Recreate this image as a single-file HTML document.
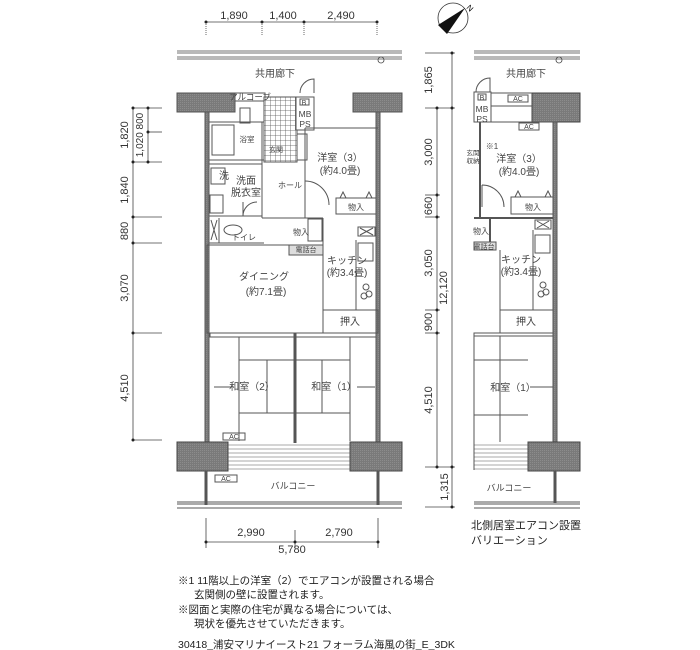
<!DOCTYPE html>
<html><head><meta charset="utf-8"><style>
html,body{margin:0;padding:0;background:#fff;}
svg{display:block;font-family:"Liberation Sans","Noto Sans CJK JP",sans-serif;}
.d{font-size:11px;fill:#333;}
.t{font-size:9px;fill:#444;}
.n{font-size:10.5px;fill:#222;}
</style></head><body>
<svg width="700" height="650" viewBox="0 0 700 650" xmlns="http://www.w3.org/2000/svg">
<defs>
<pattern id="hat" width="2" height="2" patternUnits="userSpaceOnUse"><rect width="2" height="2" fill="#7a7a7a"/><rect width="1" height="1" fill="#8c8c8c"/></pattern>
<pattern id="grid" width="5" height="5" patternUnits="userSpaceOnUse"><rect width="5" height="5" fill="#fff"/><path d="M0 0H5M0 0V5" stroke="#555" stroke-width="0.8"/></pattern>
</defs>
<g stroke="#444" fill="none" stroke-width="0.8">
<line x1="206" y1="22" x2="377" y2="22"/>
<line x1="206" y1="22" x2="206" y2="36" stroke-dasharray="1 1"/>
<line x1="262" y1="22" x2="262" y2="36" stroke-dasharray="1 1"/>
<line x1="304" y1="22" x2="304" y2="36" stroke-dasharray="1 1"/>
<line x1="377" y1="22" x2="377" y2="36" stroke-dasharray="1 1"/>
<line x1="177" y1="51" x2="402" y2="51"/><line x1="177" y1="53" x2="402" y2="53"/>
<line x1="177" y1="57" x2="402" y2="57"/><line x1="177" y1="59" x2="402" y2="59"/>
<circle cx="381" cy="60" r="3"/>
<line x1="474" y1="51" x2="580" y2="51"/><line x1="474" y1="53" x2="580" y2="53"/>
<line x1="474" y1="57" x2="580" y2="57"/><line x1="474" y1="59" x2="580" y2="59"/>
<circle cx="559" cy="60" r="3"/>
<line x1="133" y1="108" x2="133" y2="440"/>
<line x1="148" y1="108" x2="148" y2="162"/>
<line x1="133" y1="108" x2="162" y2="108"/>
<line x1="148" y1="132" x2="162" y2="132"/>
<line x1="133" y1="162" x2="162" y2="162"/>
<line x1="133" y1="217" x2="162" y2="217"/>
<line x1="133" y1="243" x2="162" y2="243"/>
<line x1="133" y1="333" x2="162" y2="333"/>
<line x1="133" y1="440" x2="162" y2="440"/>
<line x1="206" y1="542" x2="378" y2="542"/>
<line x1="206" y1="518" x2="206" y2="548"/><line x1="295" y1="530" x2="295" y2="548"/><line x1="378" y1="518" x2="378" y2="548"/>
<line x1="452" y1="53" x2="452" y2="507"/>
<line x1="437" y1="108" x2="437" y2="467"/>
<line x1="425" y1="53" x2="455" y2="53"/>
<line x1="425" y1="108" x2="455" y2="108"/>
<line x1="425" y1="195" x2="440" y2="195"/>
<line x1="425" y1="217" x2="440" y2="217"/>
<line x1="425" y1="310" x2="440" y2="310"/>
<line x1="425" y1="333" x2="440" y2="333"/>
<line x1="425" y1="467" x2="455" y2="467"/>
<line x1="425" y1="507" x2="455" y2="507"/>
</g>
<g fill="#222">
<circle cx="206" cy="22" r="1.5"/><circle cx="262" cy="22" r="1.5"/><circle cx="304" cy="22" r="1.5"/><circle cx="377" cy="22" r="1.5"/>
<circle cx="133" cy="108" r="1.5"/><circle cx="148" cy="108" r="1.5"/><circle cx="148" cy="132" r="1.5"/><circle cx="148" cy="162" r="1.5"/><circle cx="133" cy="162" r="1.5"/><circle cx="133" cy="217" r="1.5"/><circle cx="133" cy="243" r="1.5"/><circle cx="133" cy="333" r="1.5"/><circle cx="133" cy="440" r="1.5"/>
<circle cx="206" cy="542" r="1.5"/><circle cx="295" cy="542" r="1.5"/><circle cx="378" cy="542" r="1.5"/>
<circle cx="452" cy="53" r="1.5"/><circle cx="452" cy="108" r="1.5"/><circle cx="437" cy="108" r="1.5"/><circle cx="437" cy="195" r="1.5"/><circle cx="437" cy="217" r="1.5"/><circle cx="437" cy="310" r="1.5"/><circle cx="437" cy="333" r="1.5"/><circle cx="437" cy="467" r="1.5"/><circle cx="452" cy="467" r="1.5"/><circle cx="452" cy="507" r="1.5"/>
</g>
<g class="d" text-anchor="middle">
<text x="234" y="19">1,890</text><text x="283" y="19">1,400</text><text x="341" y="19">2,490</text>
<text x="251" y="536">2,990</text><text x="339" y="536">2,790</text><text x="292" y="553">5,780</text>
<text transform="translate(128,135) rotate(-90)">1,820</text>
<text transform="translate(143,135) rotate(-90)" style="font-size:10px">1,020 800</text>
<text transform="translate(128,190) rotate(-90)">1,840</text>
<text transform="translate(128,231) rotate(-90)">880</text>
<text transform="translate(128,288) rotate(-90)">3,070</text>
<text transform="translate(128,388) rotate(-90)">4,510</text>
<text transform="translate(432,80) rotate(-90)">1,865</text>
<text transform="translate(432,152) rotate(-90)">3,000</text>
<text transform="translate(432,206) rotate(-90)">660</text>
<text transform="translate(432,263) rotate(-90)">3,050</text>
<text transform="translate(447,288) rotate(-90)">12,120</text>
<text transform="translate(432,322) rotate(-90)">900</text>
<text transform="translate(432,400) rotate(-90)">4,510</text>
<text transform="translate(448,487) rotate(-90)">1,315</text>
</g>
<circle cx="453" cy="18" r="15" fill="#fff" stroke="#333" stroke-width="0.8"/>
<polygon points="438,25 447,34 465,8" fill="#111"/>
<text x="466" y="8" style="font-size:8px" transform="rotate(45 466 8)">N</text>

<g stroke="#555" stroke-width="1" fill="none">
<rect x="177" y="93" width="58" height="19" fill="url(#hat)"/>
<rect x="353" y="93" width="49" height="19" fill="url(#hat)"/>
<rect x="235" y="93" width="30" height="8" fill="#fff"/>
<rect x="264" y="97" width="33" height="65" fill="url(#grid)"/>
<path d="M300 93 A14 14 0 0 1 314 79 V93"/>
<rect x="296" y="97" width="18" height="33" fill="#fff"/>
<rect x="300" y="99" width="9" height="6"/>
<rect x="297" y="134" width="10" height="26" fill="#fff"/>
<rect x="205" y="112" width="4" height="331" fill="url(#hat)"/>
<rect x="376" y="112" width="4" height="331" fill="url(#hat)"/>
<rect x="209" y="122" width="55" height="38" fill="#fff"/>
<rect x="212" y="125" width="22" height="30"/>
<rect x="240" y="108" width="10" height="15"/>
<line x1="262" y1="122" x2="262" y2="218"/>
<line x1="209" y1="164" x2="262" y2="164"/>
<rect x="211" y="168" width="14" height="16"/>
<rect x="210" y="195" width="13" height="18"/>
<line x1="209" y1="216" x2="262" y2="216"/>
<path d="M243 216 A14 14 0 0 1 257 202 M243 202 V216"/>
<line x1="209" y1="243" x2="264" y2="243"/>
<line x1="219" y1="218" x2="219" y2="243"/>
<path d="M211 220 L217 240 M217 220 L211 240"/>
<ellipse cx="233" cy="230" rx="9" ry="5"/>
<line x1="305" y1="128" x2="305" y2="218"/>
<line x1="262" y1="218" x2="323" y2="218"/>
<path d="M305 181 A24 24 0 0 1 329 205"/>
<line x1="305" y1="128" x2="378" y2="128"/>
<rect x="336" y="198" width="40" height="16"/>
<path d="M340 198 l3 -6 l3 6 M366 198 l3 -6 l3 6"/>
<line x1="323" y1="218" x2="323" y2="333"/>
<rect x="308" y="219" width="14" height="22"/>
<rect x="358" y="227" width="17" height="9"/>
<path d="M360 228 l13 7 M373 228 l-13 7"/>
<line x1="356" y1="240" x2="356" y2="310"/>
<rect x="358" y="243" width="15" height="18"/>
<circle cx="366" cy="287" r="3"/><circle cx="369" cy="294" r="3"/><circle cx="364" cy="296" r="3"/>
<rect x="289" y="245" width="34" height="10" fill="#ddd"/>
<rect x="207" y="245" width="116" height="88"/>
<rect x="323" y="310" width="55" height="23"/>
<rect x="210" y="333" width="166" height="4"/>
<line x1="295" y1="333" x2="295" y2="443" stroke-width="3"/>
<line x1="239" y1="337" x2="239" y2="441"/><line x1="239" y1="360" x2="295" y2="360"/><line x1="239" y1="413" x2="295" y2="413"/><line x1="267" y1="360" x2="267" y2="413"/>
<line x1="350" y1="337" x2="350" y2="441"/><line x1="295" y1="360" x2="350" y2="360"/><line x1="295" y1="413" x2="350" y2="413"/><line x1="322" y1="360" x2="322" y2="413"/>
<line x1="214" y1="387" x2="232" y2="387"/><line x1="357" y1="387" x2="375" y2="387"/>
<rect x="223" y="433" width="22" height="7"/>
<rect x="177" y="442" width="51" height="29" fill="url(#hat)" stroke="#444"/>
<rect x="350" y="442" width="52" height="29" fill="url(#hat)" stroke="#444"/>
<g stroke-width="0.6"><line x1="228" y1="445" x2="350" y2="445"/><line x1="228" y1="449" x2="350" y2="449"/><line x1="228" y1="453" x2="350" y2="453"/><line x1="228" y1="457" x2="350" y2="457"/><line x1="228" y1="461" x2="350" y2="461"/><line x1="228" y1="465" x2="350" y2="465"/><line x1="228" y1="469" x2="350" y2="469"/></g>
<rect x="215" y="475" width="22" height="7"/>
<line x1="206" y1="471" x2="206" y2="505" stroke-width="3"/>
<line x1="378" y1="471" x2="378" y2="505" stroke-width="3"/>
<line x1="177" y1="502" x2="402" y2="502"/><line x1="177" y1="504" x2="402" y2="504"/><line x1="177" y1="508" x2="402" y2="508"/>
</g>
<g class="t" text-anchor="middle">
<text x="275" y="77" style="font-size:10px">共用廊下</text>
<text x="250" y="100" style="font-size:8.5px">アルコーブ</text>
<text x="304" y="105" style="font-size:7px">B</text>
<text x="305" y="117" style="font-size:8.5px">MB</text><text x="305" y="127" style="font-size:8.5px">PS</text>
<text x="247" y="142" style="font-size:7.5px">浴室</text>
<text x="276" y="152" style="font-size:7px">玄関</text>
<text x="224" y="179" style="font-size:10px">洗</text>
<text x="246" y="184" style="font-size:10px">洗面</text><text x="246" y="196" style="font-size:10px">脱衣室</text>
<text x="290" y="188" style="font-size:8px">ホール</text>
<text x="340" y="161" style="font-size:10px">洋室（3）</text>
<text x="340" y="174" style="font-size:10px">(約4.0畳)</text>
<text x="356" y="210" style="font-size:8px">物入</text>
<text x="301" y="235" style="font-size:8px">物入</text>
<text x="244" y="240" style="font-size:8px">トイレ</text>
<text x="306" y="252" style="font-size:7px">電話台</text>
<text x="347" y="264" style="font-size:10px">キッチン</text><text x="347" y="276" style="font-size:10px">(約3.4畳)</text>
<text x="264" y="280" style="font-size:10px">ダイニング</text><text x="266" y="295" style="font-size:10px">(約7.1畳)</text>
<text x="350" y="325" style="font-size:10px">押入</text>
<text x="252" y="390" style="font-size:10px">和室（2）</text>
<text x="334" y="390" style="font-size:10px">和室（1）</text>
<text x="234" y="439" style="font-size:7px">AC</text>
<text x="226" y="481" style="font-size:7px">AC</text>
<text x="293" y="489" style="font-size:9px">バルコニー</text>
</g>

<g stroke="#555" stroke-width="1" fill="none">
<path d="M476 92 A14 14 0 0 1 490 78 V92"/>
<rect x="474" y="92" width="17" height="30" fill="#fff"/>
<rect x="478" y="94" width="8" height="6"/>
<rect x="532" y="93" width="48" height="29" fill="url(#hat)" stroke="#444"/>
<line x1="491" y1="93" x2="532" y2="93"/>
<line x1="491" y1="106" x2="532" y2="106"/>
<rect x="508" y="95" width="20" height="7"/><rect x="519" y="123" width="20" height="7"/>
<rect x="553" y="122" width="4" height="320" fill="url(#hat)"/>
<line x1="481" y1="122" x2="553" y2="122"/>
<line x1="480" y1="122" x2="480" y2="218" stroke-width="2"/>
<path d="M482 185 A22 22 0 0 1 504 207 M482 185 V207"/>
<rect x="511" y="197" width="42" height="17"/>
<path d="M515 197 l3 -6 l3 6 M545 197 l3 -6 l3 6"/>
<line x1="474" y1="218" x2="553" y2="218" stroke-width="2"/>
<line x1="490" y1="218" x2="490" y2="245" stroke-width="2"/>
<rect x="474" y="242" width="22" height="8" fill="#ddd"/>
<line x1="500" y1="250" x2="500" y2="333"/>
<rect x="535" y="220" width="16" height="9"/><path d="M537 221 l12 7 M549 221 l-12 7"/>
<line x1="533" y1="230" x2="533" y2="310"/>
<rect x="535" y="235" width="15" height="18"/>
<circle cx="543" cy="285" r="3"/><circle cx="546" cy="292" r="3"/><circle cx="541" cy="294" r="3"/>
<rect x="500" y="310" width="53" height="23"/>
<rect x="474" y="333" width="79" height="3"/>
<line x1="474" y1="336" x2="474" y2="470"/>
<line x1="500" y1="336" x2="500" y2="442"/>
<line x1="474" y1="360" x2="528" y2="360"/><line x1="474" y1="415" x2="528" y2="415"/><line x1="500" y1="360" x2="500" y2="415"/>
<line x1="530" y1="387" x2="553" y2="387"/>
<rect x="528" y="442" width="52" height="29" fill="url(#hat)" stroke="#444"/>
<g stroke-width="0.6"><line x1="474" y1="445" x2="528" y2="445"/><line x1="474" y1="449" x2="528" y2="449"/><line x1="474" y1="453" x2="528" y2="453"/><line x1="474" y1="457" x2="528" y2="457"/><line x1="474" y1="461" x2="528" y2="461"/><line x1="474" y1="465" x2="528" y2="465"/><line x1="474" y1="469" x2="528" y2="469"/></g>
<line x1="555" y1="471" x2="555" y2="503" stroke-width="3"/>
<line x1="474" y1="502" x2="580" y2="502"/><line x1="474" y1="504" x2="580" y2="504"/><line x1="474" y1="508" x2="580" y2="508"/>
</g>
<g class="t" text-anchor="middle">
<text x="526" y="77" style="font-size:10px">共用廊下</text>
<text x="482" y="100" style="font-size:7px">B</text>
<text x="482" y="112" style="font-size:8.5px">MB</text><text x="482" y="122" style="font-size:8.5px">PS</text>
<text x="518" y="101" style="font-size:7px">AC</text><text x="529" y="129" style="font-size:7px">AC</text>
<text x="492" y="149" style="font-size:8px">※1</text>
<text x="473" y="155" style="font-size:6.5px">玄関</text><text x="473" y="163" style="font-size:6.5px">収納</text>
<text x="519" y="162" style="font-size:10px">洋室（3）</text><text x="519" y="175" style="font-size:10px">(約4.0畳)</text>
<text x="533" y="210" style="font-size:8px">物入</text>
<text x="481" y="234" style="font-size:8px">物入</text>
<text x="484" y="249" style="font-size:7px">電話台</text>
<text x="521" y="263" style="font-size:10px">キッチン</text><text x="521" y="275" style="font-size:10px">(約3.4畳)</text>
<text x="526" y="325" style="font-size:10px">押入</text>
<text x="513" y="391" style="font-size:10px">和室（1）</text>
<text x="509" y="491" style="font-size:9px">バルコニー</text>
</g>
<text x="471" y="529" style="font-size:11px;fill:#222">北側居室エアコン設置</text>
<text x="471" y="544" style="font-size:11px;fill:#222">バリエーション</text>

<g class="n">
<text x="178" y="584">※1 11階以上の洋室（2）でエアコンが設置される場合</text>
<text x="194" y="598">玄関側の壁に設置されます。</text>
<text x="178" y="613">※図面と実際の住宅が異なる場合については、</text>
<text x="194" y="627">現状を優先させていただきます。</text>
<text x="178" y="648">30418_浦安マリナイースト21 フォーラム海風の街_E_3DK</text>
</g>
</svg>
</body></html>
